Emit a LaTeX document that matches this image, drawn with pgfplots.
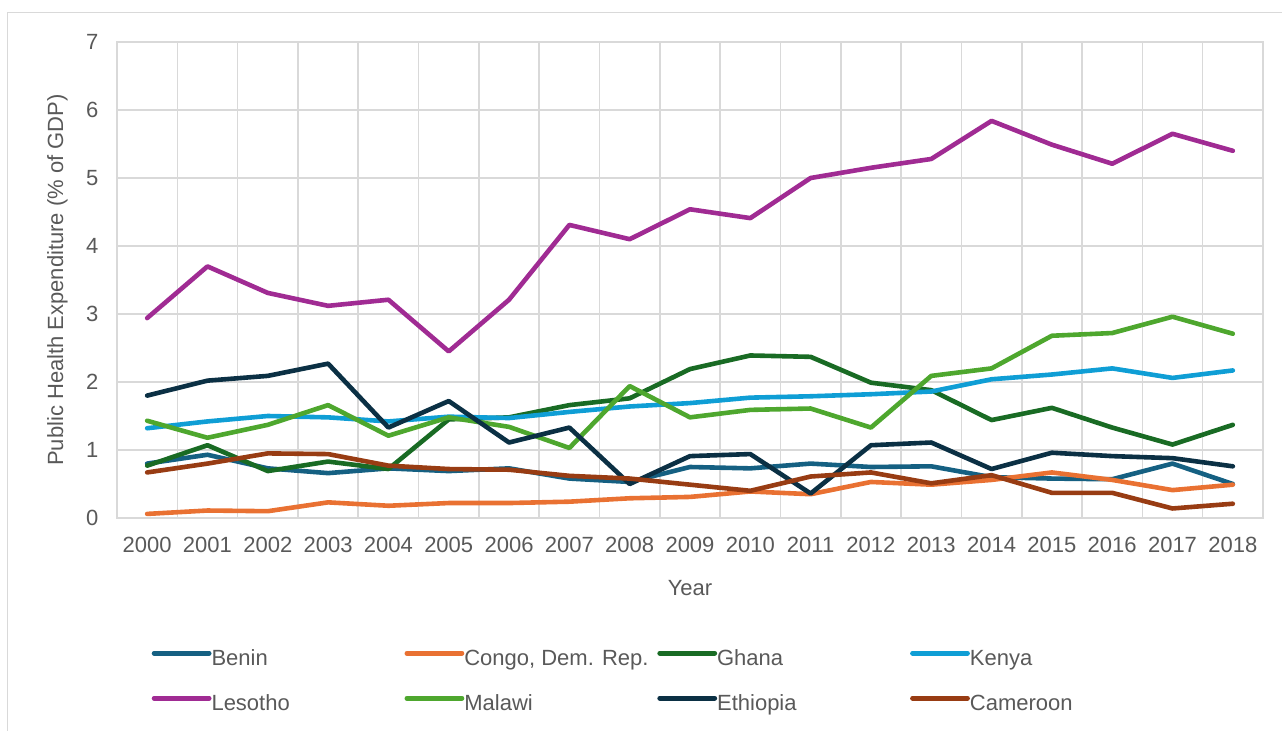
\documentclass[border=0pt]{standalone}
\usepackage{fontspec}
\setmainfont{Liberation Sans}
\usepackage{pgfplots}
\usepackage{pgfplotstable}
\pgfplotsset{compat=1.18}
\definecolor{gridc}{HTML}{D9D9D9}
\definecolor{txt}{HTML}{595959}
\definecolor{cBenin}{HTML}{156082}
\definecolor{cCongo}{HTML}{E97132}
\definecolor{cGhana}{HTML}{196B24}
\definecolor{cKenya}{HTML}{0F9ED5}
\definecolor{cLesotho}{HTML}{A02B93}
\definecolor{cMalawi}{HTML}{4EA72E}
\definecolor{cEthiopia}{HTML}{0B3044}
\definecolor{cCameroon}{HTML}{983C13}
\pgfplotstableread{
Year Benin Congo Ghana Kenya Lesotho Malawi Ethiopia Cameroon
2000 0.80 0.06 0.77 1.32 2.94 1.43 1.80 0.67
2001 0.93 0.11 1.07 1.42 3.70 1.18 2.02 0.80
2002 0.73 0.10 0.69 1.50 3.31 1.37 2.09 0.95
2003 0.66 0.23 0.83 1.48 3.12 1.66 2.27 0.94
2004 0.73 0.18 0.72 1.42 3.21 1.21 1.33 0.77
2005 0.69 0.22 1.45 1.49 2.45 1.48 1.72 0.72
2006 0.73 0.22 1.48 1.47 3.21 1.34 1.11 0.71
2007 0.58 0.24 1.66 1.56 4.31 1.03 1.33 0.62
2008 0.53 0.29 1.76 1.64 4.10 1.94 0.50 0.58
2009 0.75 0.31 2.19 1.69 4.54 1.48 0.91 0.49
2010 0.73 0.39 2.39 1.77 4.41 1.59 0.94 0.40
2011 0.80 0.35 2.37 1.79 5.00 1.61 0.36 0.61
2012 0.75 0.53 1.99 1.82 5.15 1.33 1.07 0.67
2013 0.76 0.49 1.88 1.86 5.28 2.09 1.11 0.51
2014 0.60 0.56 1.44 2.04 5.84 2.20 0.72 0.63
2015 0.58 0.67 1.62 2.11 5.49 2.68 0.96 0.37
2016 0.57 0.56 1.33 2.20 5.21 2.72 0.91 0.37
2017 0.80 0.41 1.08 2.06 5.65 2.96 0.88 0.14
2018 0.50 0.49 1.37 2.17 5.40 2.71 0.76 0.21
}\datatable
\begin{document}
\begin{tikzpicture}
\useasboundingbox (0bp,0bp) rectangle (1282bp,731bp);
\draw[gridc, line width=1.5bp] (7.5bp,0bp) -- (7.5bp,718.5bp) -- (1282bp,718.5bp);
\begin{axis}[
  at={(117bp,213bp)}, anchor=south west,
  width=1146bp, height=476bp, scale only axis,
  xmin=1999.5, xmax=2018.5, ymin=0, ymax=7,
  xtick={2000,2001,...,2018},
  minor xtick={1999.5,2000.5,...,2018.5},
  ytick={0,1,...,7},
  xticklabel={\pgfmathprintnumber[1000 sep={}]{\tick}},
  xmajorgrids=false, xminorgrids=true, ymajorgrids=true,
  major tick length=0pt, minor tick length=0pt,
  grid style={draw=gridc, line width=1.6bp},
  minor grid style={draw=gridc, line width=1.6bp},
  axis line style={draw=gridc, line width=1.6bp},
  /pgf/number format/assume math mode=true,
  tick label style={font=\fontsize{22bp}{24bp}\selectfont, text=txt},
  xticklabel style={yshift=-16bp},
  yticklabel style={xshift=-15bp},
  label style={font=\fontsize{22bp}{24bp}\selectfont, text=txt},
  xlabel={Year},
  ylabel={Public Health Expenditure (\% of GDP)},
  xlabel style={at={(axis description cs:0.5,-0.147)}, anchor=center},
  ylabel style={at={(axis description cs:-0.0519,0.5)}, anchor=center, rotate=0},
  legend columns=4,
  legend cell align=left,
  legend image code/.code={\draw[#1, line width=4.8bp, line cap=round] (0bp,7.3bp) -- (55bp,7.3bp);},
  legend style={at={(0.0303,-0.2773)}, anchor=north west, draw=none, fill=none,
    inner sep=0pt, outer sep=0pt, row sep=24bp,
    font=\fontsize{22bp}{24bp}\selectfont, text=txt,
    nodes={inner sep=0pt, text height=16bp, text depth=5bp},
    /tikz/every odd column/.append style={column sep=0bp},
    /tikz/every even column/.append style={column sep=0bp, text width=193bp, align=flush left}},
  every axis plot/.append style={line width=4.6bp, line join=round, line cap=round},
]
\addplot[cBenin] table[x=Year, y=Benin] {\datatable};
\addlegendentry{Benin}
\addplot[cCongo] table[x=Year, y=Congo] {\datatable};
\addlegendentry{Congo, Dem. Rep.}
\addplot[cGhana] table[x=Year, y=Ghana] {\datatable};
\addlegendentry{Ghana}
\addplot[cKenya] table[x=Year, y=Kenya] {\datatable};
\addlegendentry{Kenya}
\addplot[cLesotho] table[x=Year, y=Lesotho] {\datatable};
\addlegendentry{Lesotho}
\addplot[cMalawi] table[x=Year, y=Malawi] {\datatable};
\addlegendentry{Malawi}
\addplot[cEthiopia] table[x=Year, y=Ethiopia] {\datatable};
\addlegendentry{Ethiopia}
\addplot[cCameroon] table[x=Year, y=Cameroon] {\datatable};
\addlegendentry{Cameroon}
\end{axis}
\end{tikzpicture}
\end{document}
